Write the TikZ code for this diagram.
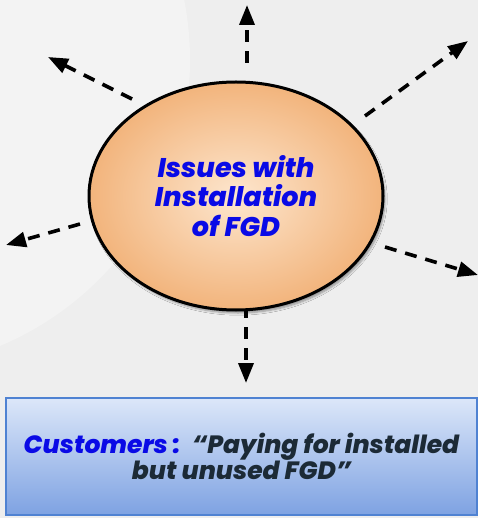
\documentclass[tikz,border=0pt]{standalone}
\usepackage{fontspec}
\setmainfont{Poppins}[BoldFont=* Bold, ItalicFont=* Italic, BoldItalicFont=* ExtraBold Italic]
\usetikzlibrary{arrows.meta,shadows.blur,shapes.geometric}
\definecolor{bg}{HTML}{EEEEEE}
\definecolor{ellin}{HTML}{FDE6CE}
\definecolor{ellout}{HTML}{F2B47C}
\definecolor{txtblue}{HTML}{0A0AE6}
\definecolor{quotec}{HTML}{1C2A36}
\definecolor{boxtop}{HTML}{DCE7F9}
\definecolor{boxbot}{HTML}{7EA2E2}
\definecolor{boxedge}{HTML}{4F82D2}
\tikzset{
  ray/.style={draw=black, line width=3.6pt, dash pattern=on 12pt off 9pt,
    -{Triangle[length=20pt,width=15pt]}},
  issue/.style={ellipse, minimum width=294pt, minimum height=228pt, inner sep=0pt,
    draw=black, line width=3pt, inner color=ellin, outer color=ellout,
    blur shadow={shadow xshift=2pt, shadow yshift=-3pt, shadow blur steps=6},
    align=center, font=\fontsize{27}{29.5}\selectfont\bfseries\itshape, text=txtblue},
  quotebox/.style={rectangle, minimum width=471pt, minimum height=117pt, inner sep=0pt,
    draw=boxedge, line width=2pt, top color=boxtop, bottom color=boxbot,
    align=center, font=\fontsize{25}{26.5}\selectfont\bfseries\itshape, text=quotec}
}
\begin{document}
\begin{tikzpicture}[x=1pt,y=-1pt]
\useasboundingbox (0,0) rectangle (478,518);
\fill[bg] (0,0) rectangle (478,518);
\fill[white, opacity=0.3] (-120,60) circle (310);
\coordinate (b0) at (246,306); \coordinate (b1) at (246,383);
\draw[ray] (b0) -- (b1);
\node[issue] (iss) at (236,196) {Issues with\\Installation\\of FGD};
\node[quotebox] (cust) at (241.5,456.5) {\textcolor{txtblue}{Customers :} \ “Paying for installed\\but unused FGD”};
\coordinate (t0) at (247,63);  \coordinate (t1) at (247,5);
\coordinate (ul0) at (132,99); \coordinate (ul1) at (48,57);
\coordinate (ur0) at (365,116); \coordinate (ur1) at (468,41);
\coordinate (l0) at (80,224);  \coordinate (l1) at (6,245);
\coordinate (r0) at (385,247); \coordinate (r1) at (478,275);
\draw[ray] (t0) -- (t1);
\draw[ray] (ul0) -- (ul1);
\draw[ray] (ur0) -- (ur1);
\draw[ray] (l0) -- (l1);
\draw[ray] (r0) -- (r1);
\end{tikzpicture}
\end{document}
